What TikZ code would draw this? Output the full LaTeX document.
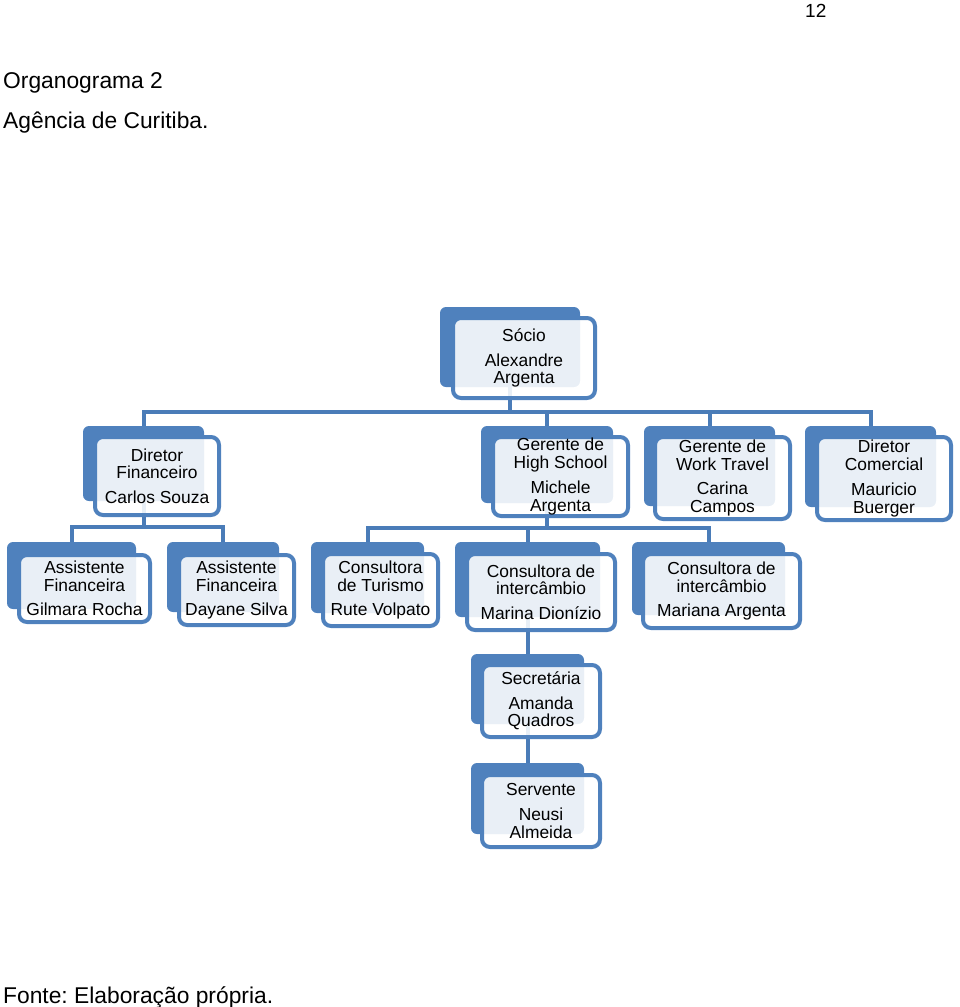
\documentclass[tikz,border=0pt]{standalone}
\usepackage{fontspec}
\setmainfont{Liberation Sans}
\usetikzlibrary{backgrounds}
\frenchspacing
\definecolor{orgblue}{HTML}{4F81BD}
\definecolor{linkblue}{HTML}{4A7CB8}
\tikzset{
  backbox/.style={fill=orgblue, rounded corners=6pt, inner sep=0pt},
  frontbox/.style={draw=orgblue, line width=4pt, fill=white, fill opacity=0.88,
    text opacity=1, rounded corners=8pt, inner sep=0pt, align=center,
    font=\fontsize{17.4}{17.7}\selectfont},
  link/.style={draw=linkblue, line width=4pt},
  heading/.style={anchor=base west, inner sep=0pt, font=\fontsize{22.8}{27}\selectfont},
}
\begin{document}
\begin{tikzpicture}[x=1pt,y=-1pt]
  \useasboundingbox (0,0) rectangle (960,1007);
  \node[heading, font=\fontsize{19}{22}\selectfont] (page) at (805,17) {12};
  \node[heading] (title) at (3,88) {Organograma 2};
  \node[heading] (subtitle) at (3,128) {Agência de Curitiba.};
  \node[heading] (source) at (3,1003) {Fonte: Elaboração própria.};
  % back boxes
  \node[backbox, minimum width=140pt, minimum height=80pt] (socio-b) at (510,347) {};
  \node[backbox, minimum width=121pt, minimum height=75pt] (dirfin-b) at (143.5,463.5) {};
  \node[backbox, minimum width=132pt, minimum height=77pt] (gerhs-b) at (547,464.5) {};
  \node[backbox, minimum width=131pt, minimum height=80pt] (gerwt-b) at (709.5,466) {};
  \node[backbox, minimum width=131pt, minimum height=81pt] (dircom-b) at (870.5,466.5) {};
  \node[backbox, minimum width=129pt, minimum height=67pt] (gilmara-b) at (71.5,575.5) {};
  \node[backbox, minimum width=112pt, minimum height=70pt] (dayane-b) at (223,577) {};
  \node[backbox, minimum width=113pt, minimum height=71pt] (rute-b) at (367.5,577.5) {};
  \node[backbox, minimum width=145pt, minimum height=75pt] (marina-b) at (527.5,579.5) {};
  \node[backbox, minimum width=153pt, minimum height=73pt] (mariana-b) at (708.5,578.5) {};
  \node[backbox, minimum width=113pt, minimum height=70pt] (secret-b) at (527.5,689) {};
  \node[backbox, minimum width=113pt, minimum height=71pt] (servente-b) at (527.5,798.5) {};
  % front boxes
  \node[frontbox, minimum width=142pt, minimum height=80pt] (socio) at (524,358) {Sócio\\[7pt]Alexandre\\Argenta};
  \node[frontbox, minimum width=124pt, minimum height=78pt] (dirfin) at (157,476) {Diretor\\Financeiro\\[7pt]Carlos Souza};
  \node[frontbox, minimum width=135pt, minimum height=79pt] (gerhs) at (560.5,476.5) {Gerente de\\High School\\[7pt]Michele\\Argenta};
  \node[frontbox, minimum width=135pt, minimum height=82pt] (gerwt) at (722.5,478) {Gerente de\\Work Travel\\[7pt]Carina\\Campos};
  \node[frontbox, minimum width=134pt, minimum height=83pt] (dircom) at (884,478.5) {Diretor\\Comercial\\[7pt]Mauricio\\Buerger};
  \node[frontbox, minimum width=131pt, minimum height=67pt] (gilmara) at (84.5,588.5) {Assistente\\Financeira\\[7pt]Gilmara Rocha};
  \node[frontbox, minimum width=115pt, minimum height=70pt] (dayane) at (236.5,590) {Assistente\\Financeira\\[7pt]Dayane Silva};
  \node[frontbox, minimum width=115pt, minimum height=72pt] (rute) at (380.5,590) {Consultora\\de Turismo\\[7pt]Rute Volpato};
  \node[frontbox, minimum width=148pt, minimum height=76pt] (marina) at (541,592) {Consultora de\\intercâmbio\\[7pt]Marina Dionízio};
  \node[frontbox, minimum width=157pt, minimum height=74pt] (mariana) at (721.5,591) {Consultora de\\intercâmbio\\[7pt]Mariana Argenta};
  \node[frontbox, minimum width=118pt, minimum height=72pt] (secret) at (541,701) {Secretária\\[7pt]Amanda\\Quadros};
  \node[frontbox, minimum width=118pt, minimum height=72pt] (servente) at (541,811) {Servente\\[7pt]Neusi\\Almeida};
  % connectors
  \begin{scope}[on background layer]
    \draw[link] (socio-b.south) -- ++(0,25) -| (dirfin-b.north);
    \draw[link] (socio-b.south) -- ++(0,25) -| (gerhs-b.north);
    \draw[link] (socio-b.south) -- ++(0,25) -| (gerwt-b.north);
    \draw[link] (socio-b.south) -- ++(0,25) -| (dircom-b.north);
    \draw[link] (dirfin-b.south) -- ++(0,26) -| (gilmara-b.north);
    \draw[link] (dirfin-b.south) -- ++(0,26) -| (dayane-b.north);
    \draw[link] (gerhs-b.south) -- ++(0,25) -| (rute-b.north);
    \draw[link] (gerhs-b.south) -- ++(0,25) -| (marina-b.north);
    \draw[link] (gerhs-b.south) -- ++(0,25) -| (mariana-b.north);
    \draw[link] (marina-b.south) -- (secret-b.north);
    \draw[link] (secret-b.south) -- (servente-b.north);
  \end{scope}
\end{tikzpicture}
\end{document}
